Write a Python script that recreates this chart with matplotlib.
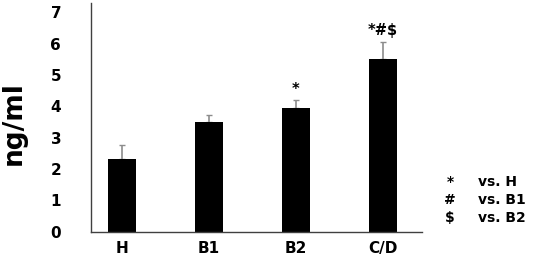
import matplotlib
matplotlib.use("Agg")
import matplotlib.pyplot as plt

categories = ["H", "B1", "B2", "C/D"]
values = [2.32, 3.50, 3.93, 5.50]
errors = [0.44, 0.23, 0.26, 0.56]
marks = ["", "", "*", "*#$"]
yticks = [0, 1, 2, 3, 4, 5, 6, 7]
legend_syms = ["*", "#", "$"]
legend_txt = ["vs. H", "vs. B1", "vs. B2"]

plt.rcParams["font.family"] = ["DejaVu Sans"]
plt.rcParams["font.weight"] = "bold"

fig = plt.figure(figsize=(5.36, 2.56), dpi=100)
ax = fig.add_axes([91/536, (256-231.5)/256, (422-91)/536, (231.5-3)/256])

x = list(range(len(categories)))
ax.bar(x, values, width=0.32, color="black", zorder=2)
ax.errorbar(x, values, yerr=[[0]*len(errors), errors], fmt="none",
            ecolor="#8c8c8c", elinewidth=1.2, capsize=2.5, capthick=1.0, zorder=1)

for xi, v, e, m in zip(x, values, errors, marks):
    if m:
        ax.text(xi, v + e + 0.12, m, ha="center", va="bottom",
                fontsize=10.5, fontweight="bold")

ax.set_xlim(-0.356, 3.45)
ax.set_ylim(0, 7.3)
ax.set_xticks(x)
ax.set_xticklabels(categories, fontsize=11, fontweight="bold")
ax.set_yticks(yticks)
ax.set_yticklabels([str(t) for t in yticks], fontsize=11, fontweight="bold")
ax.tick_params(axis="y", length=0, pad=21.5)
ax.tick_params(axis="x", length=0, pad=7)

for s in ["top", "right"]:
    ax.spines[s].set_visible(False)
for s in ["left", "bottom"]:
    ax.spines[s].set_color("#404040")
    ax.spines[s].set_linewidth(1.0)

fig.text(14/536, 1 - 123/256, "ng/ml", rotation=90, ha="center", va="center",
         fontsize=19, fontweight="bold")

for i, (s, t) in enumerate(zip(legend_syms, legend_txt)):
    yy = 1 - (182 + 18*i)/256
    fig.text(450/536, yy, s, ha="center", va="center", fontsize=10, fontweight="bold")
    fig.text(478/536, yy, t, ha="left", va="center", fontsize=10, fontweight="bold")

fig.savefig("out.png", dpi=100)
